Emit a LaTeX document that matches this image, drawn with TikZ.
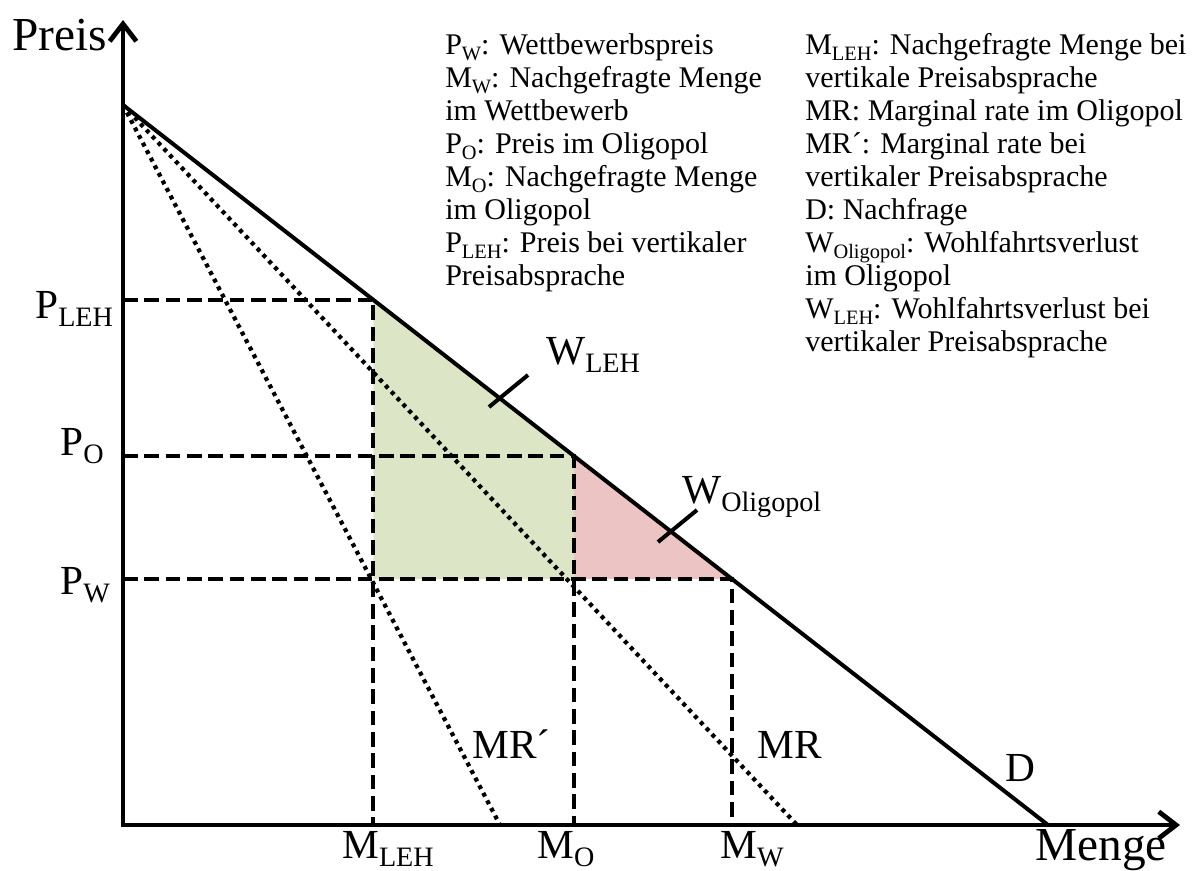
\documentclass[tikz,border=0pt]{standalone}
\usepackage{fontspec}
\setmainfont{Liberation Serif}
\usepackage{graphicx}
\usetikzlibrary{arrows.meta,calc}
\definecolor{greenfill}{HTML}{DCE6C6}
\definecolor{pinkfill}{HTML}{EBC4C3}
\newcommand{\lsub}[1]{\raisebox{-0.2em}{\scalebox{0.68}{#1}}}
\begin{document}
\begin{tikzpicture}[x=0.75pt,y=-0.75pt,
  axisline/.style={line width=3.6pt, line join=miter},
  demand/.style={line width=3pt},
  guide/.style={line width=3pt, dash pattern=on 11pt off 5pt},
  mrline/.style={line width=3.2pt, dash pattern=on 3pt off 3.4pt},
  tickline/.style={line width=3pt},
  legend/.style={font=\fontsize{22.5}{26}\selectfont, inner sep=0pt, anchor=base west},
  biglabel/.style={font=\fontsize{35.5}{40}\selectfont, inner sep=0pt, anchor=base west},
  lab/.style={font=\fontsize{31}{36}\selectfont, inner sep=0pt, anchor=base west},
  barb/.tip={Straight Barb[length=13pt,width=20pt]}
]
\useasboundingbox (0,0) rectangle (1196,871);
\coordinate (O) at (123,825);
\coordinate (ytop) at (123,20);
\coordinate (xend) at (1180,825);
\coordinate (A) at (123,105);
\coordinate (Dend) at (1048,825);
\coordinate (MRend) at (797,825);
\coordinate (MRpend) at (500,825);
\coordinate (L) at ($(A)!0.2708!(Dend)$);
\coordinate (Q) at ($(A)!0.4875!(Dend)$);
\coordinate (W) at ($(A)!0.6583!(Dend)$);
% areas
\fill[greenfill] (L) -- (Q) -- (Q |- W) -- (L |- W) -- cycle;
\fill[pinkfill] (Q) -- (W) -- (Q |- W) -- cycle;
% guide lines
\draw[guide] (O |- L) -- (L) -- (L |- O);
\draw[guide] (O |- Q) -- (Q) -- (Q |- O);
\draw[guide] (O |- W) -- (W) -- (W |- O);
% marginal revenue
\draw[mrline] (A) -- (MRend);
\draw[mrline] (A) -- (MRpend);
% demand
\draw[demand] (A) -- (Dend);
% axes
\draw[axisline, barb-barb] (ytop) -- (O) -- (xend);
% ticks
\coordinate (t1a) at (489,407); \coordinate (t1b) at (528,375);
\coordinate (t2a) at (658,542); \coordinate (t2b) at (697,510);
\draw[tickline] (t1a) -- (t1b);
\draw[tickline] (t2a) -- (t2b);
% labels
\node[biglabel] (preis) at (12,50) {Preis};
\node[biglabel] (menge) at (1035,860) {Menge};
\node[lab] (plehlab) at (35,318) {P\lsub{LEH}};
\node[lab] (polab) at (60,455) {P\lsub{O}};
\node[lab] (pwlab) at (60,594) {P\lsub{W}};
\node[lab] (mlehlab) at (342,858) {M\lsub{LEH}};
\node[lab] (molab) at (537,858) {M\lsub{O}};
\node[lab] (mwlab) at (720,858) {M\lsub{W}};
\node[lab] (mrplab) at (472,758) {MR´};
\node[lab] (mrlab) at (757,758) {MR};
\node[lab] (dlab) at (1005,781) {D};
\node[lab] (wlehlab) at (546,364) {W\lsub{LEH}};
\node[lab] (wolilab) at (682,503) {W\lsub{Oligopol}};
% legend
\foreach \t [count=\i from 0] in {
  {P\lsub{W}: Wettbewerbspreis},
  {M\lsub{W}: Nachgefragte Menge},
  {im Wettbewerb},
  {P\lsub{O}: Preis im Oligopol},
  {M\lsub{O}: Nachgefragte Menge},
  {im Oligopol},
  {P\lsub{LEH}: Preis bei vertikaler},
  {Preisabsprache}}
  \node[legend] (leftleg\i) at (445,54+33*\i) {\t};
\foreach \t [count=\i from 0] in {
  {M\lsub{LEH}: Nachgefragte Menge bei},
  {vertikale Preisabsprache},
  {MR: Marginal rate im Oligopol},
  {MR´: Marginal rate bei},
  {vertikaler Preisabsprache},
  {D: Nachfrage},
  {W\lsub{Oligopol}: Wohlfahrtsverlust},
  {im Oligopol},
  {W\lsub{LEH}: Wohlfahrtsverlust bei},
  {vertikaler Preisabsprache}}
  \node[legend] (rightleg\i) at (805,54+33*\i) {\t};
\end{tikzpicture}
\end{document}
